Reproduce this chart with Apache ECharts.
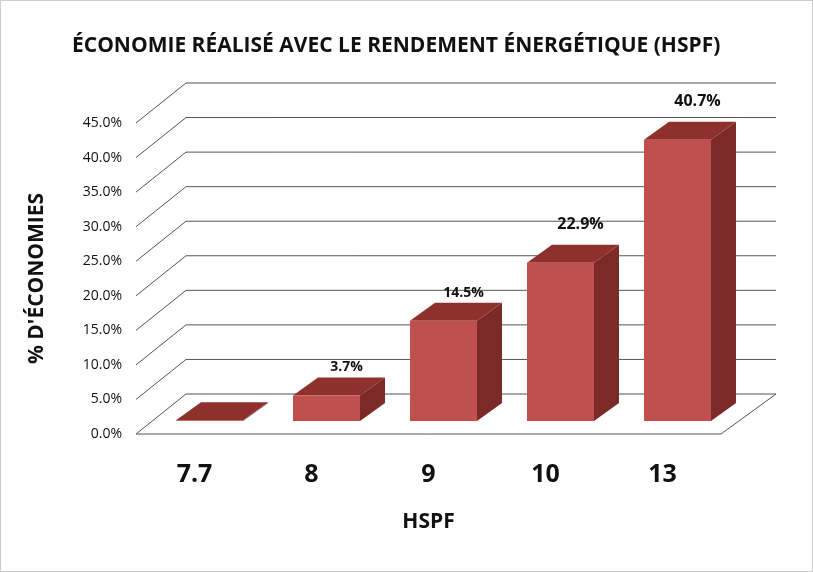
<!DOCTYPE html>
<html><head><meta charset="utf-8">
<script src="https://cdn.jsdelivr.net/npm/echarts@6/dist/echarts.min.js"></script>
<style>html,body{margin:0;padding:0;background:#fff}#c{width:811px;height:570px;border:1px solid #ccc}</style>
</head><body><div id="c"></div>
<script>
const categories = ['7.7','8','9','10','13'];
const values = [0.1, 3.7, 14.5, 22.9, 40.7];
const labels = ['', '3.7%', '14.5%', '22.9%', '40.7%'];
const ticks = [0,5,10,15,20,25,30,35,40,45];

const DX = 50, DY = -40;
const BX = 15, BY = -13;
const SX = 25, SY = -18;
const chart = echarts.init(document.getElementById('c'));
chart.setOption({
  animation:false,
  title:{text:'ÉCONOMIE RÉALISÉ AVEC LE RENDEMENT ÉNERGÉTIQUE (HSPF)',left:66,top:30,
    textStyle:{fontFamily:'Open Sans',fontWeight:'bold',fontSize:21,color:'#111'}},
  grid:{left:135,width:585,top:122,height:311},
  xAxis:{type:'category',data:categories,axisLine:{show:false},axisTick:{show:false},
    axisLabel:{margin:28,fontFamily:'Open Sans',fontWeight:'bold',fontSize:25,color:'#111'},
    name:'HSPF',nameLocation:'middle',nameGap:78,
    nameTextStyle:{fontFamily:'Open Sans',fontWeight:'bold',fontSize:21,color:'#111'}},
  yAxis:{type:'value',min:0,max:45,interval:5,splitLine:{show:false},
    axisLabel:{formatter:v=>v.toFixed(1)+'%',fontFamily:'Open Sans',fontSize:14,color:'#111',margin:14},
    name:"% D'ÉCONOMIES",nameLocation:'middle',nameGap:88,
    nameTextStyle:{fontFamily:'Open Sans',fontWeight:'bold',fontSize:21,color:'#111'}},
  series:[
    {type:'custom',data:ticks.map(t=>[0,t]),z:1,renderItem:(p,api)=>{
      const band=api.size([1,0])[0];
      const c=api.coord([0,api.value(1)]);
      const xl=c[0]-band/2, xr=api.coord([4,0])[0]+band/2, y=c[1];
      const st={stroke:'#555',lineWidth:1,fill:null};
      const ch=[
        {type:'polyline',shape:{points:[[xl,y],[xl+DX,y+DY],[xr+DX+5,y+DY]]},style:st}];
      if(api.value(1)===0){
        ch.push({type:'polyline',shape:{points:[[xl,y],[xr,y],[xr+DX+5,y+DY]]},style:st});
      }
      return {type:'group',children:ch};
    }},
    {type:'custom',data:values.map((v,i)=>[i,v]),z:3,renderItem:(p,api)=>{
      const i=api.value(0), v=api.value(1);
      const b=api.coord([i,0]), t=api.coord([i,v]);
      const w=67, x0=b[0]-w/2+BX, x1=x0+w, yb=b[1]+BY, yt=t[1]+BY;
      const ch=[
        {type:'polygon',shape:{points:[[x1,yb],[x1+SX,yb+SY],[x1+SX,yt+SY],[x1,yt]]},style:{fill:'#7b2a27'}},
        {type:'polygon',shape:{points:[[x0,yt],[x1,yt],[x1+SX,yt+SY],[x0+SX,yt+SY]]},style:{fill:'#8e312d'}},
        {type:'rect',shape:{x:x0,y:yt,width:w,height:yb-yt},style:{fill:'#c0504d'}}
      ];
      const L=labels[i];
      if(L){ch.push({type:'text',style:{text:L,x:x0+w/2+20,y:yt-(v>20?38:28),align:'center',verticalAlign:'middle',
        font:'bold '+(v>20?16:14)+'px "Open Sans"',fill:'#111'}});}
      return {type:'group',children:ch};
    }}
  ]
});
</script></body></html>
